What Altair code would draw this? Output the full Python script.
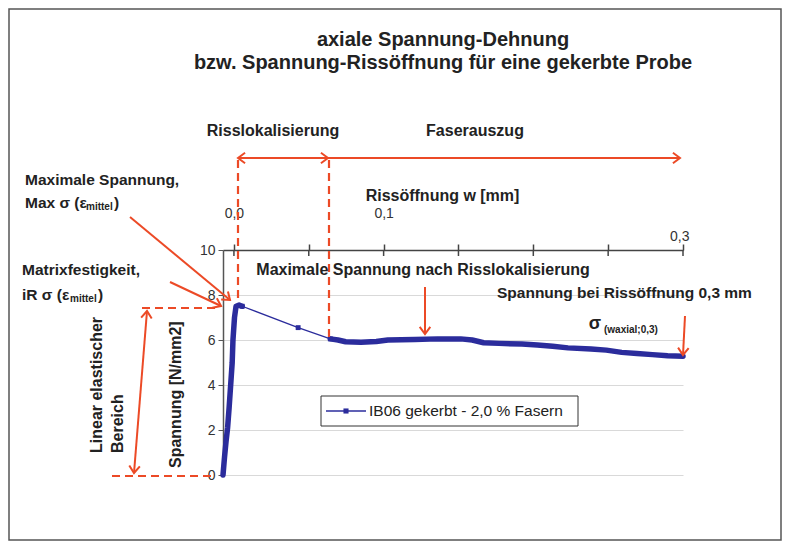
import math
import altair as alt
import pandas as pd

# ---------------- data ----------------
# rising, linear-elastic part (dense measurement points)
rise_eps = [0.00, 0.02, 0.04, 0.06, 0.08, 0.10, 0.12, 0.13, 0.15, 0.17, 0.21, 0.25]
rise_sig = [0.0, 0.8, 1.5, 2.1, 3.0, 4.0, 5.0, 6.0, 7.0, 7.5, 7.55, 7.5]
# sparse points after the peak (crack localisation)
mid_eps = [0.25, 0.98, 1.40]
mid_sig = [7.5, 6.55, 6.05]
# fibre pull-out plateau (dense measurement points)
plat_eps = [1.40, 1.50, 1.60, 1.80, 2.00, 2.15, 2.50, 2.80, 3.10, 3.25, 3.40, 3.60,
            3.90, 4.10, 4.30, 4.50, 4.80, 5.00, 5.20, 5.40, 5.60, 5.80, 6.00]
plat_sig = [6.05, 6.00, 5.92, 5.90, 5.93, 6.00, 6.02, 6.05, 6.05, 6.00, 5.88, 5.85,
            5.82, 5.78, 5.72, 5.65, 5.60, 5.55, 5.45, 5.40, 5.35, 5.30, 5.28]

x_ticks = [0, 1, 2, 3, 4, 5, 6]
y_ticks = [0, 2, 4, 6, 8, 10]
w_ticks = [0.0, 0.05, 0.10, 0.15, 0.20, 0.25, 0.30]
w_domain = [-0.0073, 0.30]
series_name = "IB06 gekerbt - 2,0 % Fasern"

BLUE = "#2b2c9c"
RED = "#ec4a26"
FONT = "Liberation Sans"

# ---------------- layout ----------------
W, H = 460, 225           # plot area
PAD_L, PAD_T = 215, 242   # page: plot origin at (223, 250)
PAD_R, PAD_B = 774 - PAD_L - W, 533 - PAD_T - H
OX, OY = 8 + PAD_L, 8 + PAD_T


def px(x):
    return x - OX


def py(y):
    return y - OY


one = pd.DataFrame({"k": [0]})

# ---------------- curve ----------------
curve_df = pd.DataFrame({
    "eps": rise_eps + mid_eps + plat_eps,
    "sig": rise_sig + mid_sig + plat_sig,
    "part": ["rise"] * len(rise_eps) + ["mid"] * len(mid_eps) + ["plat"] * len(plat_eps),
})
curve_df["order"] = range(len(curve_df))

xs = alt.Scale(domain=[0, 6], nice=False, zero=False)
ys = alt.Scale(domain=[0, 10], nice=False, zero=False)

x_axis = alt.Axis(values=x_ticks, grid=True, gridColor="#d9d9d9", domainColor="#555",
                  domainWidth=1.5, tickColor="#555", tickSize=5, labelFontSize=14,
                  labelColor="#333", labelPadding=5, labelFont=FONT,
                  title="Dehnung ε [‰]", titleFont=FONT, titleFontSize=15,
                  titleFontWeight="bold", titleColor="#222", titlePadding=12)
y_axis = alt.Axis(values=y_ticks, grid=True, gridColor="#d9d9d9", domainColor="#555",
                  domainWidth=1.5, tickColor="#555", tickSize=5, labelFontSize=14,
                  labelColor="#333", labelPadding=3, labelFont=FONT, title=None)

base = alt.Chart(curve_df)
thin = base.mark_line(color=BLUE, strokeWidth=1.3).encode(
    x=alt.X("eps:Q", scale=xs, axis=x_axis),
    y=alt.Y("sig:Q", scale=ys, axis=y_axis),
    order="order:Q",
)
thick = base.transform_filter("datum.part != 'mid'").mark_line(
    color=BLUE, strokeWidth=5.5, strokeJoin="round", strokeCap="round").encode(
    x=alt.X("eps:Q", scale=xs, axis=None),
    y=alt.Y("sig:Q", scale=ys),
    detail="part:N",
    order="order:Q",
)
marks = base.transform_filter("datum.part == 'mid'").mark_point(
    shape="square", filled=True, color=BLUE, size=24, opacity=1).encode(
    x=alt.X("eps:Q", scale=xs, axis=None),
    y=alt.Y("sig:Q", scale=ys),
)
curve = alt.layer(thin, thick, marks)

# ---------------- top axis: crack opening ----------------
top = alt.Chart(pd.DataFrame({"w": w_domain})).mark_point(opacity=0).encode(
    x=alt.X("w:Q", scale=alt.Scale(domain=w_domain, nice=False, zero=False),
            axis=alt.Axis(orient="top", values=w_ticks, grid=False, domainColor="#444",
                          domainWidth=1.5, tickColor="#444", tickSize=6, tickWidth=1.5,
                          labelFont=FONT, labelFontSize=14, labelColor="#333",
                          labelExpr="abs(datum.value) < 1e-6 ? '0,0' : (abs(datum.value - 0.1) < 1e-6 ? '0,1' : (abs(datum.value - 0.3) < 1e-6 ? '0,3' : ''))",
                          labelPadding={"condition": {"test": "datum.value > 0.29", "value": 1}, "value": 24},
                          labelOffset={"condition": {"test": "datum.value > 0.29", "value": 6}, "value": 0},
                          title="Rissöffnung w [mm]", titleFont=FONT, titleFontSize=16,
                          titleFontWeight="bold", titleColor="#222", titlePadding=3,
                          titleX=219)),
)
# inner half of the crossing ticks of the top axis
top_ticks = alt.Chart(pd.DataFrame({"w": w_ticks})).mark_rule(
    color="#444", strokeWidth=1.5).encode(
    x=alt.X("w:Q", scale=alt.Scale(domain=w_domain, nice=False, zero=False), axis=None),
    y=alt.value(0), y2=alt.value(6),
)

# ---------------- frame ----------------
frame = alt.Chart(one).mark_rect(filled=False, stroke="#555", strokeWidth=1.5).encode(
    x=alt.value(px(9)), x2=alt.value(px(781)),
    y=alt.value(py(9)), y2=alt.value(py(540)),
)

# ---------------- arrows ----------------
# (x1, y1, x2, y2, head_start, head_end) in page pixels
solid_arrows = [
    (238, 158, 328, 158, True, True),
    (328, 158, 680, 158, False, True),
    (130, 217, 230, 300, False, True),
    (170, 282, 221, 306, False, True),
    (147, 311, 134, 473, True, True),
    (425, 287, 425, 334, False, True),
    (685, 316, 683, 355, False, True),
]
dashed_lines = [
    (238, 160, 238, 302),
    (329, 160, 329, 337),
    (142, 308, 220, 308),
    (112, 476, 216, 476),
]
seg_rows, head_rows = [], []
for x1, y1, x2, y2, hs, he in solid_arrows:
    seg_rows.append({"x": px(x1), "y": py(y1), "x2": px(x2), "y2": py(y2)})
    ang = math.degrees(math.atan2(y2 - y1, x2 - x1))
    if he:
        head_rows.append({"x": px(x2), "y": py(y2), "a": ang % 360})
    if hs:
        head_rows.append({"x": px(x1), "y": py(y1), "a": (ang + 180) % 360})
dash_rows = [{"x": px(a), "y": py(b), "x2": px(c), "y2": py(d)} for a, b, c, d in dashed_lines]

arrow_lines = alt.Chart(pd.DataFrame(seg_rows)).mark_rule(color=RED, strokeWidth=2).encode(
    x=alt.X("x:Q", scale=None), y=alt.Y("y:Q", scale=None),
    x2="x2:Q", y2="y2:Q")
dash = alt.Chart(pd.DataFrame(dash_rows)).mark_rule(
    color=RED, strokeWidth=2.2, strokeDash=[8, 5]).encode(
    x=alt.X("x:Q", scale=None), y=alt.Y("y:Q", scale=None),
    x2="x2:Q", y2="y2:Q")
heads = alt.Chart(pd.DataFrame(head_rows)).mark_point(
    shape="M-1,-0.75L0,0L-1,0.75", filled=False, color=RED, strokeWidth=2,
    size=200, opacity=1).encode(
    x=alt.X("x:Q", scale=None), y=alt.Y("y:Q", scale=None),
    angle=alt.Angle("a:Q", scale=None))


# ---------------- texts ----------------
def texts(rows, size, align="left", angle=0, weight="bold", color="#222"):
    df = pd.DataFrame([{"t": t, "x": px(x), "y": py(y)} for t, x, y in rows])
    return alt.Chart(df).mark_text(
        font=FONT, fontSize=size, fontWeight=weight, align=align, baseline="middle",
        angle=angle, color=color).encode(
        x=alt.X("x:Q", scale=None), y=alt.Y("y:Q", scale=None), text="t:N")


title_txt = texts([("axiale Spannung-Dehnung", 443, 40),
                   ("bzw. Spannung-Rissöffnung für eine gekerbte Probe", 443, 63)],
                  20, "center")
phase_txt = texts([("Risslokalisierung", 273, 131), ("Faserauszug", 475, 131)], 16, "center")
left_txt = texts([("Maximale Spannung,", 25, 180), ("Max σ (ε", 25, 203), (")", 114, 203),
                  ("Matrixfestigkeit,", 22, 270), ("iR σ (ε", 22, 295), (")", 98, 295),
                  ("Spannung bei Rissöffnung 0,3 mm", 497, 293)], 15.5)
sub_txt = texts([("mittel", 86, 207), ("mittel", 70, 299), ("(waxial;0,3)", 604, 330)], 10)
mid_txt = texts([("Maximale Spannung nach Risslokalisierung", 423, 270)], 16, "center")
sigma_txt = texts([("σ", 595, 324)], 18, "center")
rot_txt = texts([("Linear elastischer", 97, 453), ("Bereich", 118, 453),
                 ("Spannung [N/mm2]", 176, 468)], 16, "left", 270)

# ---------------- legend ----------------
LX1, LY1, LX2, LY2 = 321, 396, 578, 426
leg_box = alt.Chart(one).mark_rect(fill="white", stroke="#333", strokeWidth=1).encode(
    x=alt.value(px(LX1)), x2=alt.value(px(LX2)), y=alt.value(py(LY1)), y2=alt.value(py(LY2)))
leg_line = alt.Chart(one).mark_rule(color=BLUE, strokeWidth=1.3).encode(
    x=alt.value(px(326)), x2=alt.value(px(366)), y=alt.value(py(411)))
leg_pt = alt.Chart(one).mark_point(shape="square", filled=True, color=BLUE, size=26,
                                   opacity=1).encode(
    x=alt.value(px(346)), y=alt.value(py(411)))
leg_txt = texts([(series_name, 369, 411)], 15.5, "left", weight="normal", color="#222")

chart = alt.layer(
    frame, curve, top, top_ticks, dash, arrow_lines, heads,
    title_txt, phase_txt, left_txt, sub_txt, mid_txt, sigma_txt, rot_txt,
    leg_box, leg_line, leg_pt, leg_txt,
).resolve_scale(x="independent").properties(
    width=W, height=H,
    autosize=alt.AutoSizeParams(type="none"),
    padding={"left": PAD_L, "top": PAD_T, "right": PAD_R, "bottom": PAD_B},
    background="white",
).configure_view(stroke=None)

chart.save("out.html", embed_options={"renderer": "svg", "actions": False})
